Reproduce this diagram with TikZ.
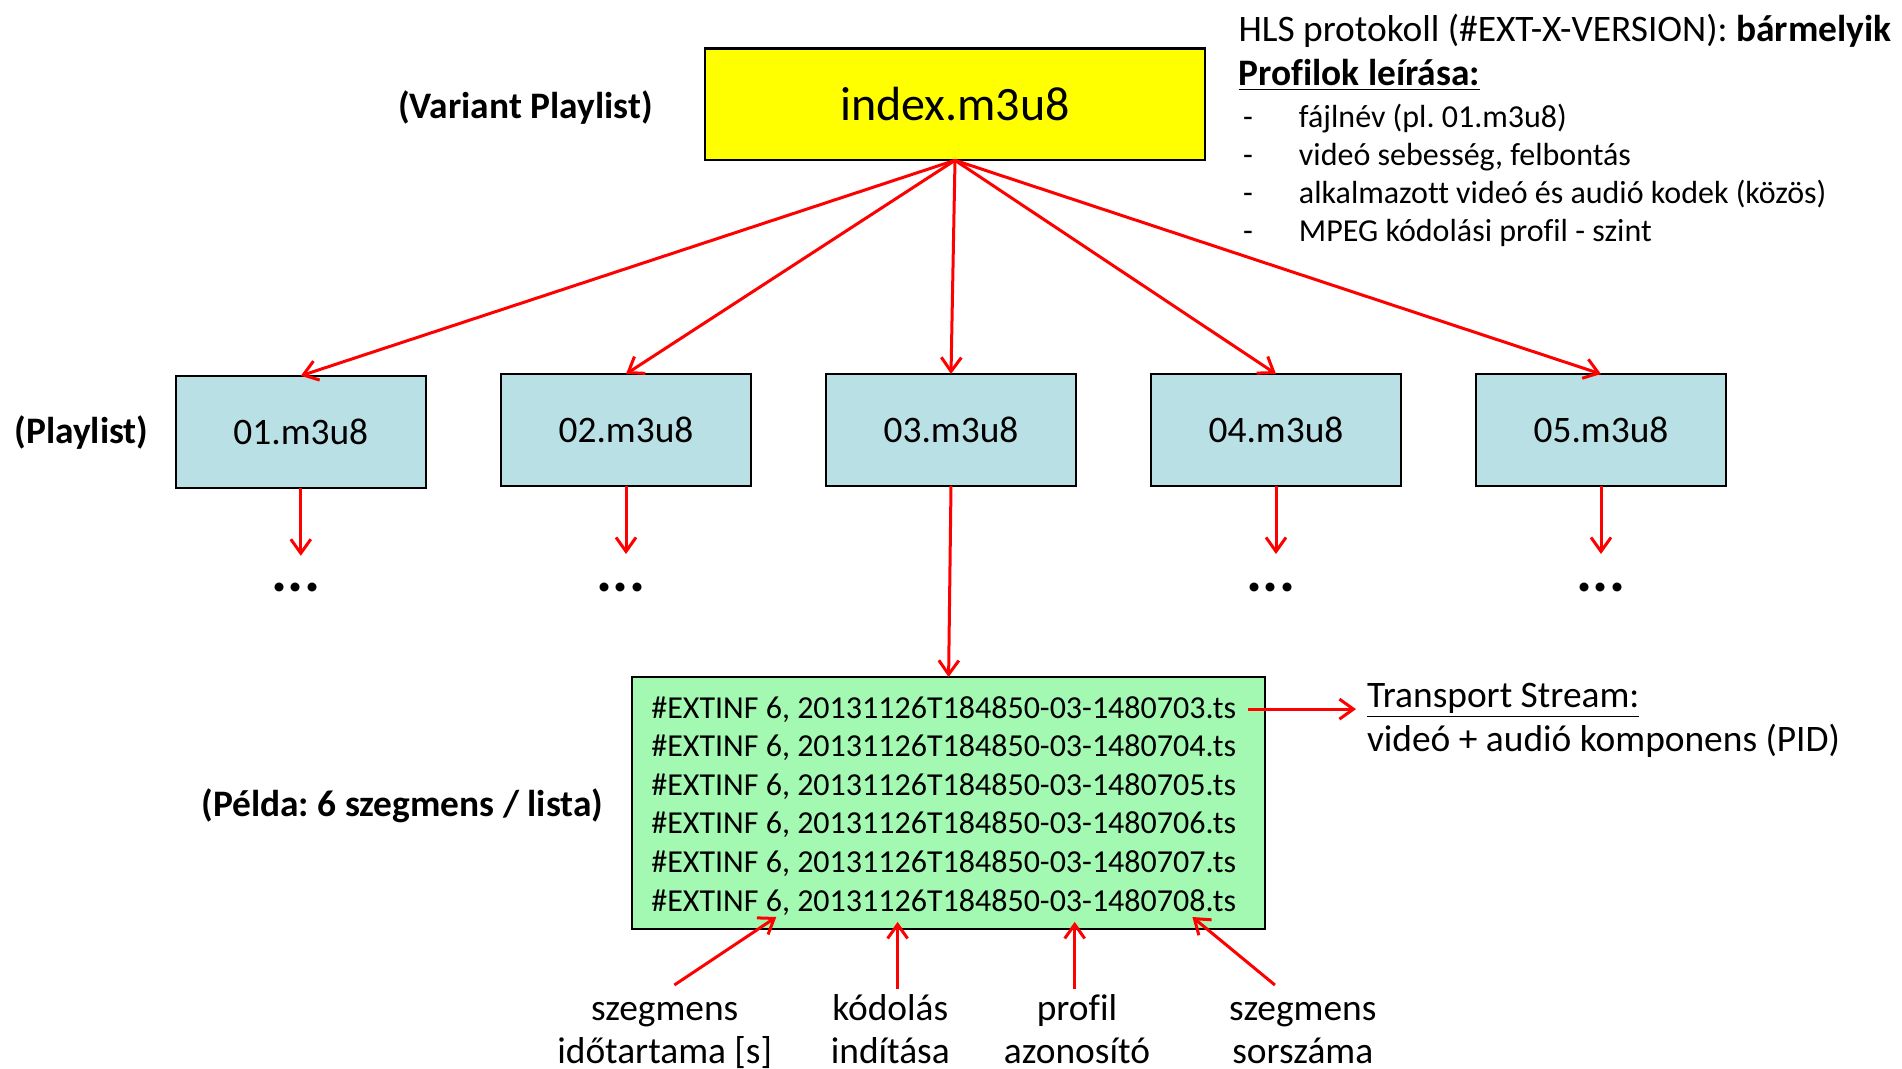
\documentclass[tikz,border=0pt]{standalone}
\usepackage{fontspec}
\setmainfont{Carlito}[Ligatures=NoCommon]
\usetikzlibrary{arrows.meta}
\definecolor{boxblue}{RGB}{185,224,228}
\definecolor{boxgreen}{RGB}{163,249,177}
\definecolor{boxyellow}{RGB}{255,255,0}
\definecolor{linkred}{RGB}{255,0,0}
\frenchspacing
\begin{document}
\begin{tikzpicture}[x=0.5pt,y=-0.5pt,
  every node/.style={inner sep=0pt,outer sep=0pt},
  indexbox/.style={draw=black,line width=1.2pt,fill=boxyellow,minimum width=250pt,minimum height=55.8pt,font=\fontsize{24}{28.8}\selectfont},
  filebox/.style={draw=black,line width=1.2pt,fill=boxblue,minimum width=125pt,minimum height=56pt,font=\fontsize{18.7}{22}\selectfont},
  segbox/.style={draw=black,line width=1.2pt,fill=boxgreen,minimum width=316.5pt,minimum height=126pt},
  segline/.style={anchor=base west,font=\fontsize{16}{19.3}\selectfont},
  sidelabel/.style={font=\fontsize{18.7}{22}\selectfont\bfseries},
  plaintext/.style={font=\fontsize{18.7}{22}\selectfont},
  bullet/.style={anchor=base west,font=\fontsize{16}{19}\selectfont},
  notelabel/.style={align=center,anchor=base,font=\fontsize{18.7}{21.8}\selectfont},
  more/.style={anchor=base,font=\fontsize{30}{34}\selectfont\bfseries},
  link/.style={draw=linkred,line width=1.5pt,-{Straight Barb[length=7pt,width=10pt]}}]
\useasboundingbox (0,0) rectangle (1902,1069);

% master playlist
\node[indexbox] (idx) at (955,104.5) {index.m3u8};
\node[sidelabel,anchor=base east] (vlab) at (652.6,118.7) {(Variant Playlist)};

% header notes
\node[plaintext,anchor=base west] (hls) at (1238.5,41.1) {HLS protokoll (\#EXT-X-VERSION): \textbf{bármelyik}};
\node[plaintext,anchor=base west] (prof) at (1238.5,86) {\textbf{\underline{Profilok leírása:}}};
\foreach \t [count=\k from 0] in {{fájlnév (pl. 01.m3u8)},{videó sebesség, felbontás},{alkalmazott videó és audió kodek (közös)},{MPEG kódolási profil - szint}}
  \node[bullet] (b\k) at (1243,127.2+38*\k) {\makebox[28pt][l]{-}\t};

% media playlists
\node[sidelabel,anchor=base west] (plab) at (14.6,443.6) {(Playlist)};
\node[filebox] (p1) at (300.8,431.8) {01.m3u8};
\node[filebox] (p2) at (626,430) {02.m3u8};
\node[filebox] (p3) at (951,430) {03.m3u8};
\node[filebox] (p4) at (1276,430) {04.m3u8};
\node[filebox] (p5) at (1601,430) {05.m3u8};

\foreach \p in {p1,p2,p3,p4,p5}
  \draw[link] (idx.south) -- (\p.north);

% continuation marks
\node[more] (d1) at (296,591.4) {...};
\node[more] (d2) at (621,591.4) {...};
\node[more] (d4) at (1271,591.4) {...};
\node[more] (d5) at (1601,591.4) {...};
\foreach \p in {p1,p2,p4,p5}
  \coordinate (\p t) at ([yshift=-34pt]\p.south);
\foreach \p in {p1,p2,p4,p5}
  \draw[link] (\p.south) -- (\p t);

% segment list
\node[segbox] (seg) at (948.6,803) {};
\node[sidelabel,anchor=base west] (slab) at (201.4,816.2) {(Példa: 6 szegmens / lista)};
\foreach \i [count=\k from 0] in {3,4,5,6,7,8}
  \node[segline] (l\i) at (651.4,718+38.6*\k) {\#EXTINF 6, 20131126T184850-03-148070\i.ts};
\draw[link] (p3.south) -- (seg.north);

% transport stream note
\node[plaintext,anchor=base west] (ts) at (1367,707.2) {\underline{Transport Stream:}};
\node[plaintext,anchor=base west] (tsb) at (1367,751.9) {videó + audió komponens (PID)};
\draw[link,shorten >=5.5pt] ([xshift=6pt]l3.east) -- (l3.east -| ts.west);

% field annotations
\node[notelabel] (n1) at (664.7,1063.7) {szegmens\\időtartama [s]};
\node[notelabel] (n2) at (890.3,1063.7) {kódolás\\indítása};
\node[notelabel] (n3) at (1077,1063.7) {profil\\azonosító};
\node[notelabel] (n4) at (1302.8,1063.7) {szegmens\\sorszáma};
\coordinate (n1s) at (674.4,985);   \coordinate (f1) at (776.3,917);
\coordinate (n2s) at (897.6,988.6); \coordinate (f2) at (897.6,921.9);
\coordinate (n3s) at (1074.7,988.6);\coordinate (f3) at (1074.7,921.9);
\coordinate (n4s) at (1274.9,985);  \coordinate (f4) at (1192.4,917);
\foreach \i in {1,2,3,4}
  \draw[link] (n\i s) -- (f\i);
\end{tikzpicture}
\end{document}
